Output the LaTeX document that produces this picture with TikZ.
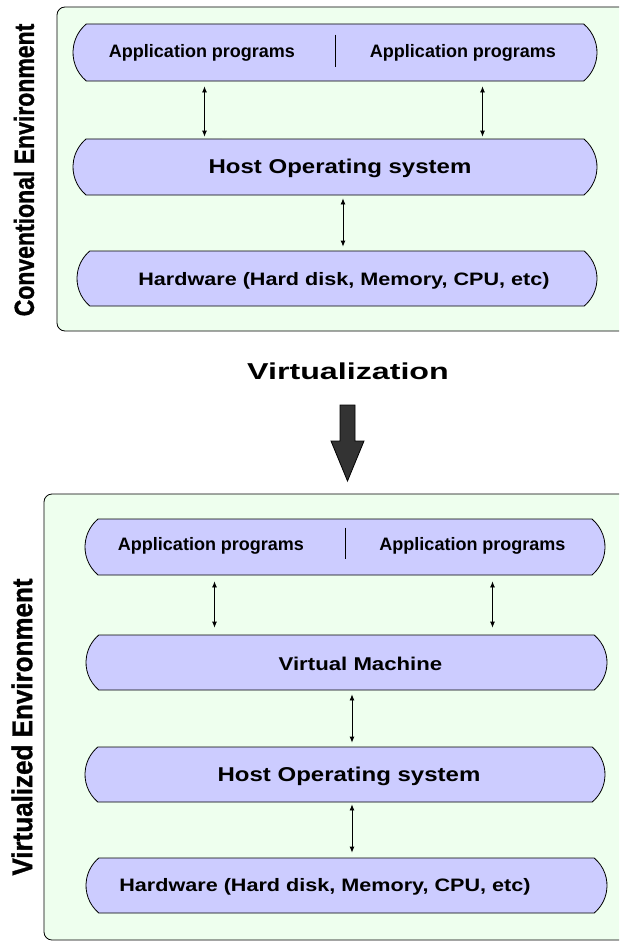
\documentclass[tikz,border=0pt]{standalone}
\usepackage{graphicx}
\usepackage{fontspec}
\setmainfont{Liberation Sans}
\newfontfamily\widefont[FakeStretch=1.2]{Liberation Sans}
\newfontfamily\titlefont[FakeStretch=1.4]{Liberation Sans}
\newfontfamily\sidefont[FakeBold=1.2]{Liberation Sans Bold}
\usetikzlibrary{arrows.meta,positioning,shapes.misc}
\definecolor{envgreen}{RGB}{238,255,238}
\definecolor{layerblue}{RGB}{204,204,255}
\definecolor{bigarrowgray}{RGB}{51,51,51}

\begin{document}
\begin{tikzpicture}[x=1pt,y=-1pt,env/.style={draw,rounded corners=8pt,fill=envgreen,line width=0.8pt,inner sep=0pt},layer/.style={draw,rounded rectangle,rounded rectangle arc length=100,fill=layerblue,line width=0.8pt,inner sep=0pt,minimum height=56pt},dbl/.style={{Latex[length=6pt,width=5pt]}-{Latex[length=6pt,width=5pt]},line width=0.8pt},side/.style={rotate=90,inner sep=0pt},apptxt/.style={inner sep=0pt,font=\bfseries\fontsize{18}{20}\selectfont},laytxt/.style={inner sep=0pt,font=\widefont\bfseries\fontsize{18}{20}\selectfont}]
\useasboundingbox (0,0) rectangle (619,942);
\clip (0,0) rectangle (619,942);
% conventional environment
\node[env,minimum width=583pt,minimum height=324pt] (conv) at (348.5,169) {};
\node[side,font=\sidefont\fontsize{23}{25}\selectfont] (convlbl) at (24,170) {\scalebox{1}[1.2]{Conventional Environment}};
\node[layer,minimum width=524pt,minimum height=57pt] (app1) at (335,52.5) {};
\node[apptxt] (app1a) at (202,53) {Application programs};
\node[apptxt] (app1b) at (463,53) {Application programs};
\draw[line width=0.8pt] ([yshift=-11pt]app1.north) -- ([yshift=14pt]app1.south);
\node[layer,minimum width=524pt] (host1) at (335,167) {};
\node[laytxt,font=\widefont\bfseries\fontsize{20}{22}\selectfont] (host1t) at (340,168) {Host Operating system};
\node[layer,minimum width=520pt,minimum height=55pt] (hw1) at (337,278.5) {};
\node[laytxt] (hw1t) at (344,281) {Hardware (Hard disk, Memory, CPU, etc)};
\draw[dbl,shorten <=5pt,shorten >=2pt] ([xshift=-130.5pt]app1.south) -- ([xshift=-130.5pt]app1.south |- host1.north);
\draw[dbl,shorten <=5pt,shorten >=2pt] ([xshift=147.5pt]app1.south) -- ([xshift=147.5pt]app1.south |- host1.north);
\draw[dbl,shorten <=3pt,shorten >=4pt] ([xshift=8pt]host1.south) -- ([xshift=8pt]host1.south |- hw1.north);
% virtualization step
\node[inner sep=0pt,font=\titlefont\bfseries\fontsize{23}{25}\selectfont] (virt) at (348,371) {Virtualization};
\draw[line width=0.8pt,fill=bigarrowgray] (340,405) -- (355,405) -- (355,441) -- (364,441) -- (347.5,481) -- (331,441) -- (340,441) -- cycle;
% virtualized environment
\node[env,minimum width=596pt,minimum height=446pt] (virtenv) at (342,717) {};
\node[side,font=\sidefont\fontsize{26}{28}\selectfont] (virtlbl) at (22,727) {\scalebox{1}[1.1]{Virtualized Environment}};
\node[layer,minimum width=520pt] (app2) at (345,547) {};
\node[apptxt] (app2a) at (211,546) {Application programs};
\node[apptxt] (app2b) at (472.5,546) {Application programs};
\draw[line width=0.8pt] ([yshift=-9pt]app2.north) -- ([yshift=16pt]app2.south);
\node[layer,minimum width=521pt,minimum height=55pt] (vm) at (346.5,662.5) {};
\node[laytxt,font=\widefont\bfseries\fontsize{18.5}{20}\selectfont] (vmt) at (360.5,664) {Virtual Machine};
\node[layer,minimum width=520pt,minimum height=55pt] (host2) at (345,774.5) {};
\node[laytxt,font=\widefont\bfseries\fontsize{20}{22}\selectfont] (host2t) at (349,776) {Host Operating system};
\node[layer,minimum width=521pt,minimum height=55pt] (hw2) at (346.5,885.5) {};
\node[laytxt] (hw2t) at (325,887) {Hardware (Hard disk, Memory, CPU, etc)};
\draw[dbl,shorten <=6pt,shorten >=7pt] ([xshift=-130.5pt]app2.south) -- ([xshift=-130.5pt]app2.south |- vm.north);
\draw[dbl,shorten <=6pt,shorten >=7pt] ([xshift=147.5pt]app2.south) -- ([xshift=147.5pt]app2.south |- vm.north);
\draw[dbl,shorten <=4pt,shorten >=4pt] ([xshift=5.5pt]vm.south) -- ([xshift=5.5pt]vm.south |- host2.north);
\draw[dbl,shorten <=2pt,shorten >=5pt] ([xshift=7pt]host2.south) -- ([xshift=7pt]host2.south |- hw2.north);
\end{tikzpicture}
\end{document}
